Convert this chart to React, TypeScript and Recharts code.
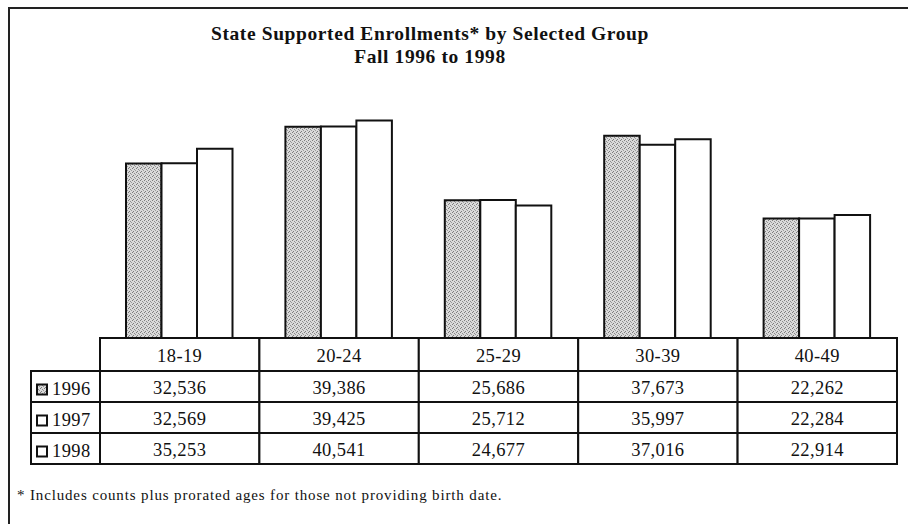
import React from 'react';
import { BarChart, Bar, XAxis, YAxis } from 'recharts';

// Fall enrollments by age group
const groups = ['18-19', '20-24', '25-29', '30-39', '40-49'];
const years = ['1996', '1997', '1998'];
const enroll1996 = [32536, 39386, 25686, 37673, 22262];
const enroll1997 = [32569, 39425, 25712, 35997, 22284];
const enroll1998 = [35253, 40541, 24677, 37016, 22914];
const yDomain = [0, 45000];

const INK = '#111';
const SERIF = '"Liberation Serif", "Times New Roman", serif';

const series = [
  { key: 'y1996', label: years[0], values: enroll1996, fill: 'url(#dither)' },
  { key: 'y1997', label: years[1], values: enroll1997, fill: '#fff' },
  { key: 'y1998', label: years[2], values: enroll1998, fill: '#fff' },
];

const data = groups.map((g, i) => ({
  group: g,
  y1996: enroll1996[i],
  y1997: enroll1997[i],
  y1998: enroll1998[i],
}));

const W = 908;
const H = 524;
const MARGIN = { top: 96.5, right: 11, bottom: 56, left: 100 };
const AXIS_H = 130;
const COL_W = (W - MARGIN.left - MARGIN.right) / groups.length;
const HEAD_H = 33;
const ROW_H = 31;
const LABEL_W = 69;

const cellText = {
  fontFamily: SERIF,
  fontSize: 18.5,
  fill: INK,
  letterSpacing: 0.4,
};

// each x-axis tick draws one column of the data table under its bars
function TableColumn(props: any) {
  const { x, y, index, payload } = props;
  const left = x - COL_W / 2;
  return (
    <g>
      <rect x={left} y={y} width={COL_W} height={HEAD_H} fill="#fff" stroke={INK} strokeWidth={2} />
      <text x={x} y={y + 24} textAnchor="middle" style={cellText}>
        {payload.value}
      </text>
      {series.map((s, r) => {
        const top = y + HEAD_H + r * ROW_H;
        return (
          <g key={s.key}>
            <rect x={left} y={top} width={COL_W} height={ROW_H} fill="#fff" stroke={INK} strokeWidth={2} />
            <text x={x} y={top + 23} textAnchor="middle" style={cellText}>
              {s.values[index].toLocaleString('en-US')}
            </text>
          </g>
        );
      })}
      {index === 0 &&
        series.map((s, r) => {
          const top = y + HEAD_H + r * ROW_H;
          const lx = left - LABEL_W;
          return (
            <g key={'lbl' + s.key}>
              <rect x={lx} y={top} width={LABEL_W} height={ROW_H} fill="#fff" stroke={INK} strokeWidth={2} />
              <rect x={lx + 6} y={top + 13.5} width={10} height={10} fill={s.fill} stroke={INK} strokeWidth={2} />
              <text x={lx + 21} y={top + 24} textAnchor="start" style={cellText}>
                {s.label}
              </text>
            </g>
          );
        })}
    </g>
  );
}

export default function App() {
  return (
    <div style={{ position: 'absolute', left: 0, top: 0, width: W, height: H, background: '#fff' }}>
      <svg width={0} height={0} style={{ position: 'absolute' }}>
        <defs>
          <pattern id="dither" patternUnits="userSpaceOnUse" width={4} height={4}>
            <rect width={4} height={4} fill="#dadada" />
            <rect x={0} y={0} width={1} height={1} fill="#7d7d7d" />
            <rect x={2} y={1} width={1} height={1} fill="#8c8c8c" />
            <rect x={1} y={3} width={1} height={1} fill="#7d7d7d" />
            <rect x={3} y={2} width={1} height={1} fill="#9a9a9a" />
          </pattern>
        </defs>
      </svg>
      <BarChart
        width={W}
        height={H}
        data={data}
        margin={MARGIN}
        barSize={35.5}
        barGap={0}
      >
        <XAxis
          dataKey="group"
          height={AXIS_H}
          axisLine={false}
          tickLine={false}
          tickSize={0}
          tickMargin={0}
          interval={0}
          tick={<TableColumn />}
        />
        <YAxis hide domain={yDomain} />
        {series.map((s) => (
          <Bar
            key={s.key}
            dataKey={s.key}
            fill={s.fill}
            stroke={INK}
            strokeWidth={2}
            isAnimationActive={false}
          />
        ))}
      </BarChart>
      <svg
        width={W}
        height={H}
        style={{ position: 'absolute', left: 0, top: 0, pointerEvents: 'none' }}
      >
        <line x1={8} y1={8} x2={W} y2={8} stroke="#222" strokeWidth={2} />
        <line x1={9} y1={7} x2={9} y2={H} stroke="#222" strokeWidth={2} />
        <text
          x={430}
          textAnchor="middle"
          style={{ fontFamily: SERIF, fontSize: 19.5, fontWeight: 'bold', fill: INK, letterSpacing: 0.6 }}
        >
          <tspan x={430} y={40}>State Supported Enrollments* by Selected Group</tspan>
          <tspan x={430} y={63}>Fall 1996 to 1998</tspan>
        </text>
        <text x={17} y={500} style={{ fontFamily: SERIF, fontSize: 15, fill: INK, letterSpacing: 0.85 }}>
          * Includes counts plus prorated ages for those not providing birth date.
        </text>
      </svg>
    </div>
  );
}
